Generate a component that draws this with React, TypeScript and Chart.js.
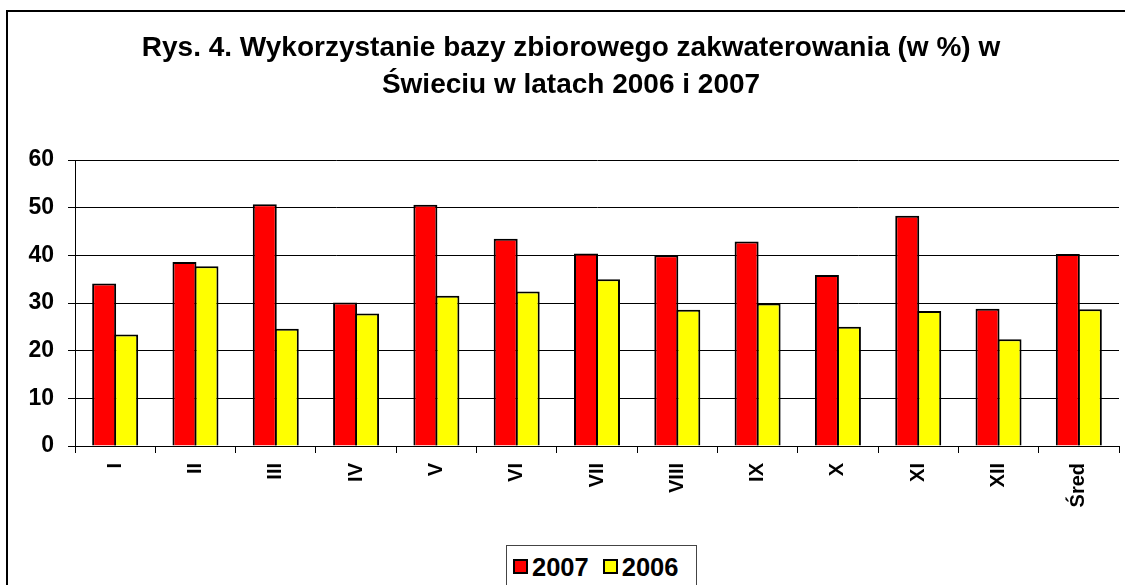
import React, { useEffect, useRef } from "react";
import { Chart, registerables } from "chart.js";

Chart.register(...registerables);

const categories = ["I", "II", "III", "IV", "V", "VI", "VII", "VIII", "IX", "X", "XI", "XII", "Śred"];
const values2007 = [34.1, 38.6, 50.7, 30.1, 50.6, 43.5, 40.4, 40.0, 42.9, 35.9, 48.3, 28.8, 40.3];
const values2006 = [23.4, 37.7, 24.6, 27.8, 31.5, 32.4, 35.0, 28.6, 29.9, 25.0, 28.3, 22.4, 28.7];
const seriesLabels = ["2007", "2006"];
const seriesColors = ["#FF0000", "#FFFF00"];
const titleLines = ["Rys. 4. Wykorzystanie bazy zbiorowego zakwaterowania (w %) w", "Świeciu w latach 2006 i 2007"];
const yMin = 0;
const yMax = 60;
const yStep = 10;

const FONT = "'Liberation Sans', Arial, sans-serif";

export default function App() {
  const canvasRef = useRef<HTMLCanvasElement | null>(null);

  useEffect(() => {
    if (!canvasRef.current) return;
    const chart = new Chart(canvasRef.current, {
      type: "bar",
      data: {
        labels: categories,
        datasets: [
          {
            label: seriesLabels[0],
            data: values2007,
            backgroundColor: seriesColors[0],
            borderColor: "#000",
            borderWidth: 2,
            barPercentage: 24 / 22,
            categoryPercentage: 44 / 80.31,
          },
          {
            label: seriesLabels[1],
            data: values2006,
            backgroundColor: seriesColors[1],
            borderColor: "#000",
            borderWidth: 2,
            barPercentage: 24 / 22,
            categoryPercentage: 44 / 80.31,
          },
        ],
      },
      options: {
        responsive: false,
        animation: false,
        devicePixelRatio: 1,
        layout: { padding: 0 },
        plugins: {
          legend: { display: false },
          tooltip: { enabled: false },
          title: {
            display: true,
            text: titleLines,
            color: "#000",
            font: { family: FONT, size: 28, weight: "bold", lineHeight: 37 / 28 },
            padding: { top: 19.5, bottom: 56.5 },
          },
        },
        scales: {
          x: {
            position: "bottom",
            offset: true,
            grid: {
              display: true,
              offset: true,
              drawOnChartArea: false,
              drawTicks: true,
              tickLength: 7,
              color: "#000",
              lineWidth: 1,
            },
            border: { display: true, color: "#000", width: 1 },
            ticks: {
              autoSkip: false,
              minRotation: 90,
              maxRotation: 90,
              padding: 10,
              color: "#000",
              font: { family: FONT, size: 20, weight: "bold" },
            },
            afterFit: (scale: any) => {
              scale.height = 144;
            },
          },
          y: {
            position: "left",
            min: yMin,
            max: yMax,
            grid: {
              display: true,
              drawTicks: true,
              tickLength: 7,
              color: "#000",
              lineWidth: 1,
            },
            border: { display: true, color: "#000", width: 1 },
            ticks: {
              stepSize: yStep,
              padding: 14,
              color: "#000",
              font: { family: FONT, size: 23, weight: "bold" },
            },
            afterFit: (scale: any) => {
              scale.width = 68;
            },
          },
          yRight: {
            position: "right",
            display: true,
            grid: { display: false, drawOnChartArea: false, drawTicks: false },
            border: { display: false },
            ticks: { display: false },
            afterFit: (scale: any) => {
              scale.width = 16;
            },
          },
        },
      },
    });
    return () => chart.destroy();
  }, []);

  const legendItem = (label: string, color: string, marginLeft: number) => (
    <div style={{ display: "flex", alignItems: "center", marginLeft }}>
      <div
        style={{
          width: 15,
          height: 15,
          boxSizing: "border-box",
          border: "2px solid #000",
          background: color,
        }}
      />
      <span
        style={{
          marginLeft: 4,
          fontFamily: FONT,
          fontWeight: "bold",
          fontSize: 25.5,
          color: "#000",
          lineHeight: "26px",
        }}
      >
        {label}
      </span>
    </div>
  );

  return (
    <div
      style={{
        position: "fixed",
        left: 0,
        top: 0,
        width: 1125,
        height: 585,
        overflow: "hidden",
        background: "#fff",
      }}
    >
      <div
        style={{
          position: "absolute",
          left: 6,
          top: 10,
          width: 1300,
          height: 800,
          border: "2px solid #000",
        }}
      />
      <canvas
        ref={canvasRef}
        width={1128}
        height={580}
        style={{ position: "absolute", left: 7, top: 10, width: 1128, height: 580 }}
      />
      <div
        style={{
          position: "absolute",
          left: 506,
          top: 545,
          width: 189,
          height: 41,
          border: "1px solid #444",
          background: "#fff",
          display: "flex",
          alignItems: "center",
        }}
      >
        {legendItem(seriesLabels[0], seriesColors[0], 6)}
        {legendItem(seriesLabels[1], seriesColors[1], 14)}
      </div>
    </div>
  );
}
